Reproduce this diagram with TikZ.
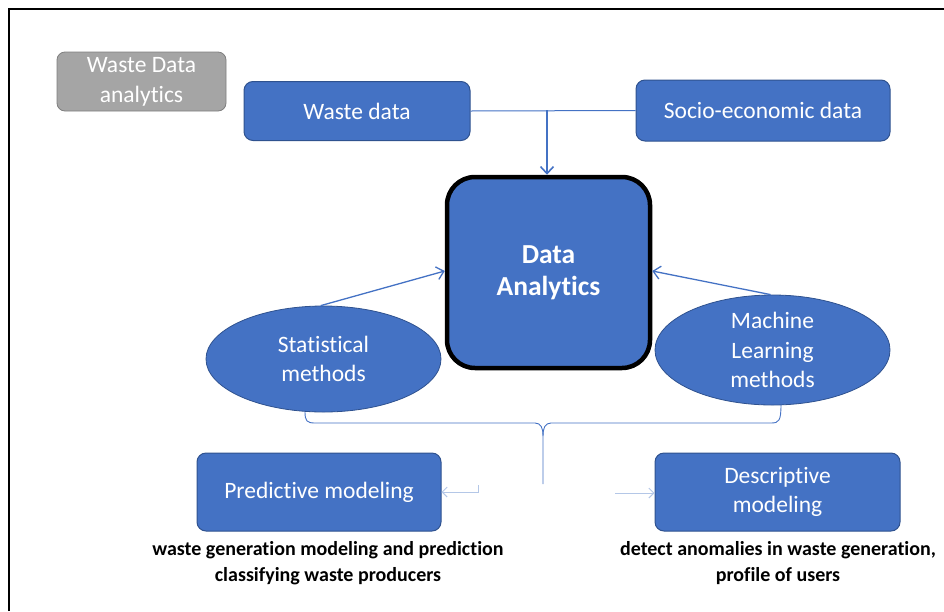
\documentclass[tikz,border=0pt]{standalone}
\usepackage{fontspec}
\setmainfont{Carlito}[Ligatures=NoCommon]
\usetikzlibrary{shapes.geometric,arrows.meta}
\definecolor{accent}{HTML}{4472C4}
\definecolor{accentdark}{HTML}{2F528F}
\definecolor{accentlight}{HTML}{B4C7E7}
\definecolor{greyfill}{HTML}{A5A5A5}
\definecolor{greyline}{HTML}{7F7F7F}
\tikzset{
  bluebox/.style={draw=accentdark, line width=1pt, fill=accent, rounded corners=9pt,
    text=white, font=\fontsize{23.5}{29}\selectfont, align=center, inner sep=0pt},
  blueoval/.style={ellipse, draw=accentdark, line width=0.8pt, fill=accent,
    text=white, font=\fontsize{23.5}{29.5}\selectfont, align=center, inner sep=0pt,
    minimum width=235pt},
  note/.style={font=\bfseries\fontsize{20}{26}\selectfont, align=center, text=black},
  feed/.style={draw=accent, line width=1.6pt, -{Straight Barb[length=7pt,width=13pt]}},
  thinlink/.style={draw=accent, line width=1pt},
  faint/.style={draw=accentlight, line width=1pt, -{Straight Barb[length=5pt,width=10pt]}}
}
\begin{document}
\begin{tikzpicture}[x=1pt,y=-1pt]
\useasboundingbox (0,0) rectangle (944,611);
% frame
\draw[line width=1.2pt] (9,611) -- (9,9) -- (944,9);

% title tag
\node[draw=greyline, line width=0.8pt, fill=greyfill, rounded corners=8pt, text=white,
      font=\fontsize{23.5}{30}\selectfont, align=center, minimum width=169pt,
      minimum height=59pt, inner sep=0pt] (wda) at (141.5,81.5) {Waste Data\\analytics};

% input data
\node[bluebox, minimum width=226pt, minimum height=59pt] (wd) at (357,111) {Waste data};
\node[bluebox, minimum width=254pt, minimum height=61pt] (se) at (763,110.5) {Socio-economic data};

% central block
\node[draw=black, line width=4.5pt, fill=accent, rounded corners=28pt, text=white,
      font=\bfseries\fontsize{27.5}{31.5}\selectfont, align=center,
      minimum width=203pt, minimum height=191pt, inner sep=0pt] (da) at (548.5,272.5) {Data\\Analytics};

% methods
\node[blueoval, minimum height=106pt] (st) at (323.5,359) {Statistical\\methods};
\node[blueoval, minimum height=110pt] (ml) at (772.5,350) {Machine\\Learning\\methods};

% outputs
\node[bluebox, minimum width=244pt, minimum height=78pt] (pm) at (319,492) {Predictive modeling};
\node[bluebox, minimum width=245pt, minimum height=78pt] (dm) at (777.5,492) {Descriptive\\modeling};

\node[note, anchor=north] (pmn) at (328,538) {waste generation modeling and prediction\\classifying waste producers};
\node[note, anchor=north] (dmn) at (778,538) {detect anomalies in waste generation,\\profile of users};

% data feed into the central block
\coordinate (j) at (547,110);
\draw[thinlink] (wd.east) -- (se.west);
\draw[feed] (j) -- (j |- da.north);

% methods into the central block
\draw[feed, line width=1.3pt] (st.93) -- (da.west |- 0,271);
\draw[feed, line width=1.3pt] (ml.92) -- (da.east |- 0,271);

% brace gathering both methods
\coordinate (bl) at (305,412);
\coordinate (br) at (781,404);
\coordinate (bm) at (543,484);
\draw[draw=accent, line width=0.9pt]
  (bl) .. controls (305,421) and (307,423) .. (315,423)
  -- (535,423) .. controls (541,423) and (543,428) .. (543,436)
  -- (bm);
\draw[draw=accent, line width=0.9pt]
  (543,436) .. controls (543,428) and (545,423) .. (551,423)
  -- (771,423) .. controls (779,423) and (781,421) .. (br);

% pointers to the two model types
\coordinate (pa) at (478,485);
\coordinate (da2) at (615,493);
\draw[faint] (pa) -- (478,492) -- (pm.east |- 0,492);
\draw[faint] (da2) -- (dm.west |- da2);
\end{tikzpicture}
\end{document}
